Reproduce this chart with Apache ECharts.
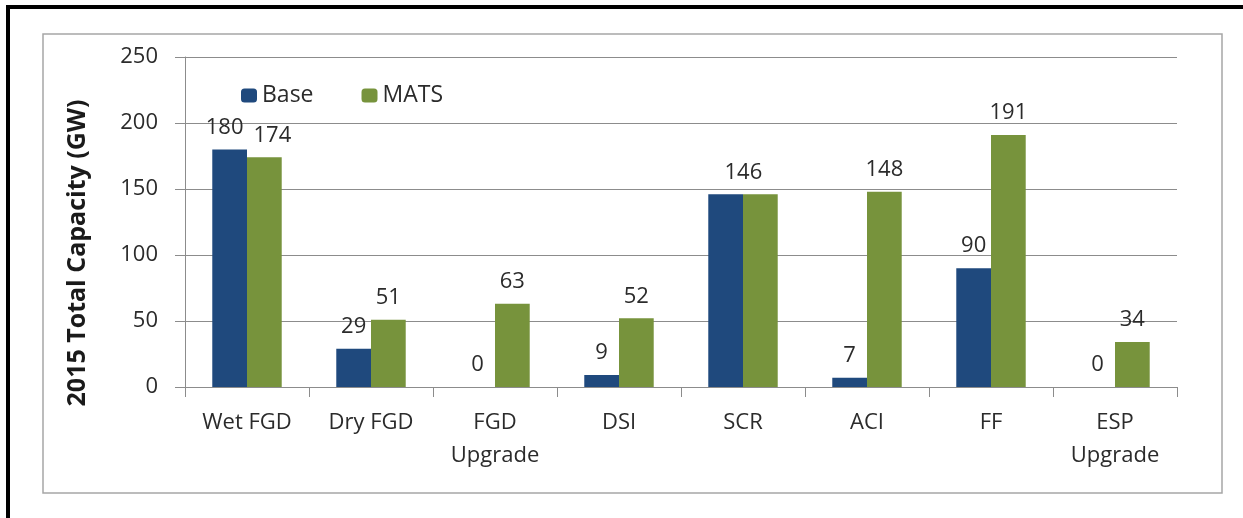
<!DOCTYPE html>
<html>
<head>
<meta charset="utf-8">
<script src="https://cdn.jsdelivr.net/npm/echarts@6/dist/echarts.min.js"></script>
<style>
html, body { margin: 0; padding: 0; background: #fff; }
#chart { width: 1243px; height: 518px; }
</style>
</head>
<body>
<div id="chart"></div>
<script>
var categories = ['Wet FGD', 'Dry FGD', 'FGD\nUpgrade', 'DSI', 'SCR', 'ACI', 'FF', 'ESP\nUpgrade']
var baseValues = [180, 29, 0, 9, 146, 7, 90, 0]
var matsValues = [174, 51, 63, 52, 146, 148, 191, 34]
var yTicks = [0, 50, 100, 150, 200, 250]

var FONT = 'Open Sans'
var TXT = '#2b2b2b'

// SCR labels collide, only one centered label is shown there (like the original)
var baseData = baseValues.map(function (v, i) {
  var item = {value: v}
  if (categories[i] === 'SCR') item.label = {show: false}
  if (i === 0) item.label = {offset: [-5, 0]}
  return item
})
var matsData = matsValues.map(function (v, i) {
  var item = {value: v}
  if (categories[i] === 'SCR') item.label = {offset: [-17, 0]}
  if (i === 0) item.label = {offset: [8, 0]}
  return item
})

var chart = echarts.init(document.getElementById('chart'))
chart.setOption({
  backgroundColor: '#fff',
  animation: false,
  graphic: [
    {type: 'rect', shape: {x: 6, y: 5, width: 1237, height: 4}, style: {fill: '#000'}},
    {type: 'rect', shape: {x: 6, y: 5, width: 4, height: 513}, style: {fill: '#000'}},
    {type: 'rect', shape: {x: 43, y: 34, width: 1179, height: 459}, style: {fill: 'none', stroke: '#a6a6a6', lineWidth: 1.5}}
  ],
  grid: {left: 185, right: 66, top: 57, bottom: 131, containLabel: false},
  legend: {
    left: 236,
    top: 79,
    itemWidth: 16,
    itemHeight: 14,
    itemGap: 48,
    textStyle: {fontFamily: FONT, fontSize: 23, color: TXT},
    data: ['Base', 'MATS']
  },
  xAxis: {
    type: 'category',
    data: categories,
    axisLine: {lineStyle: {color: '#8c8c8c', width: 1}},
    axisTick: {show: true, length: 10, lineStyle: {color: '#8c8c8c'}},
    axisLabel: {
      interval: 0,
      margin: 19,
      fontFamily: FONT,
      fontSize: 22,
      lineHeight: 33,
      color: TXT
    }
  },
  yAxis: {
    type: 'value',
    min: 0,
    max: 250,
    interval: 50,
    name: '2015 Total Capacity (GW)',
    nameLocation: 'middle',
    nameGap: 95,
    // right padding pushes the rotated title down a bit, as in the original
    nameTextStyle: {fontFamily: FONT, fontSize: 25, fontWeight: 'bold', color: '#1a1a1a', padding: [0, 62, 0, 0]},
    axisLine: {show: true, lineStyle: {color: '#8c8c8c', width: 1}},
    axisTick: {show: true, length: 10, lineStyle: {color: '#8c8c8c'}},
    splitLine: {lineStyle: {color: '#8c8c8c', width: 1}},
    axisLabel: {
      margin: 27,
      fontFamily: FONT,
      fontSize: 22,
      color: TXT,
      formatter: function (v) { return yTicks.indexOf(v) >= 0 ? String(v) : '' }
    }
  },
  series: [
    {
      name: 'Base',
      type: 'bar',
      data: baseData,
      barGap: '0%',
      barCategoryGap: '44%',
      itemStyle: {color: '#1f497d'},
      label: {show: true, position: 'top', distance: 11, fontFamily: FONT, fontSize: 22, color: TXT}
    },
    {
      name: 'MATS',
      type: 'bar',
      data: matsData,
      barGap: '0%',
      barCategoryGap: '44%',
      itemStyle: {color: '#77933c'},
      label: {show: true, position: 'top', distance: 11, fontFamily: FONT, fontSize: 22, color: TXT}
    }
  ]
})
</script>
</body>
</html>
